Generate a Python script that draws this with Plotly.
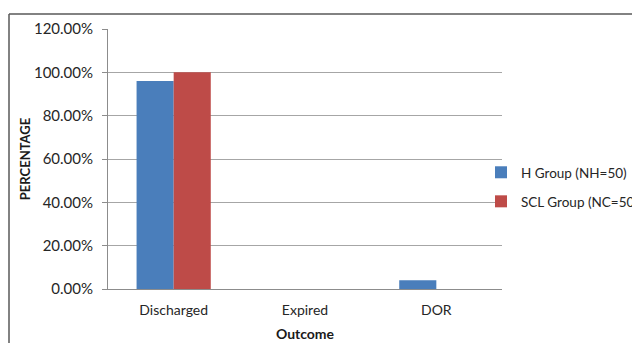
import plotly.graph_objects as go

categories = ["Discharged", "Expired", "DOR"]
h_group = [0.96, 0.0, 0.04]
scl_group = [1.00, 0.0, 0.0]
series_names = ["H Group (NH=50)", "SCL Group (NC=50)"]
y_ticks = [0, 0.2, 0.4, 0.6, 0.8, 1.0, 1.2]

OFF = 8  # page body margin offset
W, H = 640 - OFF, 343 - OFF
# target plot area in screen pixels
PX0, PX1, PY0, PY1 = 108, 502, 29, 289
L = PX0 - OFF
T = PY0 - OFF
pw = PX1 - PX0
ph = PY1 - PY0
R = W - L - pw
B = H - T - ph

fig = go.Figure()
fig.add_trace(go.Bar(x=categories, y=h_group, name=series_names[0],
                     marker=dict(color="#4a7ebb", line=dict(width=0)), legendgroup="a"))
fig.add_trace(go.Bar(x=categories, y=scl_group, name=series_names[1],
                     marker=dict(color="#be4b48", line=dict(width=0)), legendgroup="b"))

font_family = "Lato, 'Open Sans', sans-serif"
fig.update_layout(
    width=W, height=H,
    margin=dict(l=L, r=R, t=T, b=B, pad=0, autoexpand=False),
    paper_bgcolor="white", plot_bgcolor="white",
    barmode="group", bargap=0.435, bargroupgap=0,
    font=dict(family=font_family, size=14, color="#262626"),
    showlegend=True,
    legend=dict(xref="container", yref="container",
                x=(481 - OFF) / W, y=1 - (157 - OFF) / H, xanchor="left", yanchor="top",
                font=dict(size=13.5, color="#262626"), tracegroupgap=8.5,
                bgcolor="rgba(0,0,0,0)", itemwidth=30),
    xaxis=dict(showgrid=False, showline=True, linecolor="#8c8c8c", linewidth=1,
               ticks="", tickfont=dict(size=14, color="#262626"), automargin=False,
               ticklabelstandoff=8,
               title=dict(text="<b>Outcome</b>", font=dict(size=14, color="#1a1a1a"), standoff=12)),
    yaxis=dict(range=[0, 1.2], tickvals=y_ticks, tickformat=".2%", automargin=False,
               showgrid=True, gridcolor="#a6a6a6", gridwidth=1,
               showline=True, linecolor="#8c8c8c", linewidth=1,
               ticks="outside", ticklen=5, tickcolor="#8c8c8c", ticklabelstandoff=6,
               tickfont=dict(size=15, color="#262626"), zeroline=False,
               title=dict(text="<b>PERCENTAGE</b>", font=dict(size=13, color="#1a1a1a"), standoff=0)),
)

# outer chart frame (left and top edges visible, rest cropped)
def px_x(sx):
    return (sx - PX0) / pw

def px_y(sy):
    return (PY1 - sy) / ph

fig.add_shape(type="line", xref="paper", yref="paper",
              x0=px_x(9), x1=px_x(9), y0=px_y(360), y1=px_y(14),
              line=dict(color="#595959", width=1.5))
fig.add_shape(type="line", xref="paper", yref="paper",
              x0=px_x(9), x1=px_x(660), y0=px_y(14), y1=px_y(14),
              line=dict(color="#595959", width=1.5))

fig.write_html("out.html")
